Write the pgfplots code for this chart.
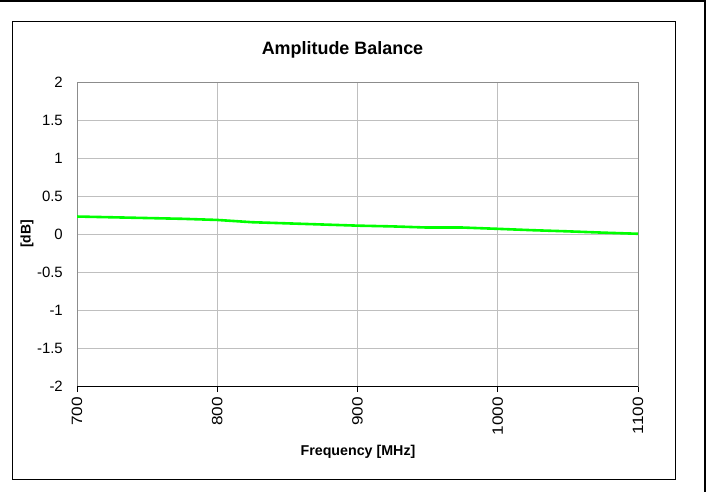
\documentclass[border=0pt]{standalone}
\usepackage{pgfplots}
\pgfplotsset{compat=1.18}
\usepackage{fontspec}
\setmainfont{Liberation Sans}
\begin{document}
\begin{tikzpicture}
\path[use as bounding box] (0,0) rectangle (710bp,-492bp);
\draw[line width=1.5bp] (0,-1bp) -- (705bp,-1bp) -- (705bp,-492bp);
\draw[line width=1bp] (12bp,-21bp) rectangle (675bp,-479bp);
\begin{axis}[
  scale only axis, width=561bp, height=304bp,
  at={(77bp,-386bp)}, anchor=south west,
  xmin=700, xmax=1100, ymin=-2, ymax=2,
  xtick={700,800,...,1100}, ytick={-2,-1.5,...,2},
  grid=major, grid style={draw=black!25, line width=0.8bp},
  axis line style={draw=black!45, line width=1bp},
  tick align=outside, xtick pos=bottom, ytick pos=left,
  ytick style={draw=none},
  x tick style={draw=black, line width=0.8bp},
  major tick length=6bp,
  /pgf/number format/assume math mode=true,
  /pgf/number format/1000 sep={},
  yticklabel style={font=\fontsize{15}{16}\selectfont, inner sep=0pt, xshift=-8bp},
  xticklabel style={font=\fontsize{15}{16}\selectfont, rotate=90, anchor=east, inner sep=0pt, xshift=-5bp},
  xticklabel={\scalebox{1.15}[1]{\pgfmathprintnumber{\tick}}},
]
\addplot[color={rgb,255:red,0;green,255;blue,0}, line width=2.6bp] coordinates {
(700,0.23) (725,0.22) (750,0.21) (775,0.20) (800,0.185) (825,0.155)
(850,0.14) (875,0.125) (900,0.11) (925,0.10) (950,0.085) (975,0.085)
(1000,0.068) (1025,0.05) (1050,0.035) (1075,0.018) (1100,0.003)
};
\draw[black, line width=1bp] (axis cs:700,-2) -- (axis cs:1100,-2);
\end{axis}
\node[font=\bfseries\fontsize{18}{20}\selectfont] at (342.5bp,-50bp) {Amplitude Balance};
\node[font=\bfseries\fontsize{14.3}{16}\selectfont] at (358bp,-452bp) {Frequency [MHz]};
\node[font=\bfseries\fontsize{14}{16}\selectfont, rotate=90] at (27bp,-234bp) {[dB]};
\end{tikzpicture}
\end{document}
